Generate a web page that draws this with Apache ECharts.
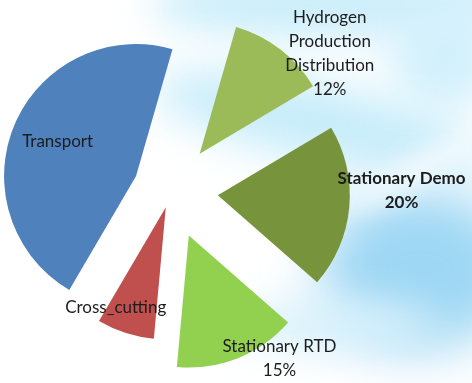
<!DOCTYPE html>
<html>
<head>
<meta charset="utf-8">
<script src="https://cdn.jsdelivr.net/npm/echarts@6/dist/echarts.min.js"></script>
<style>
  html, body { margin: 0; padding: 0; }
  body { width: 472px; height: 383px; overflow: hidden; background: #ffffff; position: relative; }
  .sky { position: absolute; border-radius: 50%; }
  #chart { position: absolute; left: 0; top: 0; width: 472px; height: 383px; }
</style>
</head>
<body>
<!-- soft sky backdrop -->
<div class="sky" style="left:150px;top:-30px;width:360px;height:70px;background:#cdeefb;filter:blur(18px);"></div>
<div class="sky" style="left:390px;top:0px;width:110px;height:110px;background:#d2f0fc;filter:blur(20px);"></div>
<div class="sky" style="left:150px;top:85px;width:340px;height:75px;background:#c6ecfa;filter:blur(22px);transform:rotate(12deg);"></div>
<div class="sky" style="left:320px;top:190px;width:200px;height:160px;background:#9ed7f4;filter:blur(26px);"></div>
<div class="sky" style="left:340px;top:150px;width:180px;height:26px;background:#f4fbfe;filter:blur(12px);transform:rotate(-28deg);"></div>
<div class="sky" style="left:240px;top:300px;width:200px;height:50px;background:#d6f0fb;filter:blur(20px);"></div>
<div id="chart"></div>
<script>
// Funding split by programme area, clockwise from the Hydrogen slice
const categories = ['Hydrogen\nProduction\nDistribution', 'Stationary Demo', 'Stationary RTD', 'Cross_cutting', 'Transport'];
const values = [12, 20, 15, 7, 46];
const showPercent = [true, true, true, false, false];

const colors = ['#9BBB59', '#77933C', '#92D050', '#C0504D', '#4F81BD'];
// how far each slice is pulled away from the centre
const explode = [47, 47, 48, 17, 38];
// label nudges from the slice's inside anchor
const labelShift = [[88, -46], [115, -11], [65, 59], [-29, 35], [-15, -7]];
const labelBold = [false, true, false, false, false];

const chart = echarts.init(document.getElementById('chart'), null, { renderer: 'canvas' });

// one series per slice so each can have its own explode distance
const series = categories.map((_, k) => ({
  type: 'pie',
  radius: 132,
  center: [171, 191],
  startAngle: 74,
  clockwise: true,
  silent: true,
  animation: false,
  avoidLabelOverlap: false,
  selectedMode: 'multiple',
  selectedOffset: explode[k],
  emphasis: { disabled: true },
  labelLine: { show: false },
  labelLayout: () => ({ dx: labelShift[k][0], dy: labelShift[k][1] }),
  data: categories.map((name, i) => ({
    name: name,
    value: values[i],
    selected: i === k,
    itemStyle: { color: i === k ? colors[i] : 'rgba(0,0,0,0)', borderWidth: 0 },
    label: i === k ? {
      show: true,
      position: 'inside',
      color: '#1c1c1c',
      fontFamily: 'Lato',
      fontSize: 17,
      lineHeight: 24,
      fontWeight: labelBold[i] ? 'bold' : 'normal',
      align: 'center',
      formatter: (p) => showPercent[i] ? p.name + '\n' + p.percent + '%' : p.name
    } : { show: false }
  }))
}));

chart.setOption({
  backgroundColor: 'transparent',
  series: series
});
</script>
</body>
</html>
